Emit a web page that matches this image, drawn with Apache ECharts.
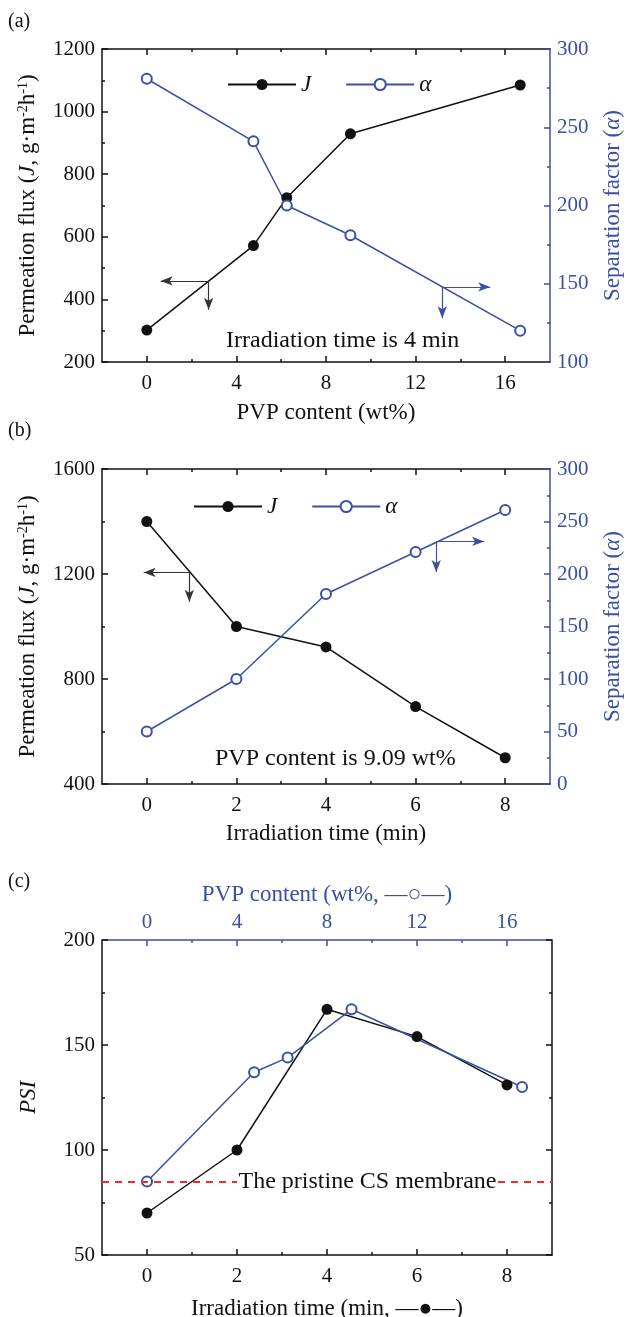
<!DOCTYPE html>
<html lang="en">
<head>
    <meta charset="UTF-8">
    <title>PVP membrane</title>
    <script src="https://cdn.jsdelivr.net/npm/echarts@6/dist/echarts.min.js"></script>
    <style>
        body { margin: 0; background: #fff; }
    </style>
</head>
<body>
    <div id="main" style="width: 630px; height: 1317px;"></div>
</body>
</html>

<script>
    var man = document.querySelector('#main')
    const myChart = echarts.init(man)

// (a) 照射时间 4 min
var pvpA = [0, 4.76, 6.25, 9.09, 16.67];
var fluxA = [302, 572, 725, 929, 1085];
var alphaA = [281, 241, 200, 181, 120];

// (b) PVP 9.09 wt%
var timeB = [0, 2, 4, 6, 8];
var fluxB = [1400, 1000, 922, 695, 500];
var alphaB = [50, 100, 181, 221, 261];

// (c) PSI
var timeC = [0, 2, 4, 6, 8];
var psiTime = [70, 100, 167, 154, 131];
var pvpC = [0, 4.76, 6.25, 9.09, 16.67];
var psiPvp = [85, 137, 144, 167, 130];
var psiPristine = 85;

var pvpTicks = [0, 4, 8, 12, 16];
var pvpMinor = [2, 6, 10, 14];
var timeTicks = [0, 2, 4, 6, 8];
var timeMinor = [1, 3, 5, 7];

// 箭头 (数据坐标)
var arrowsA = {
    left: [[2.76, 459], [0.62, 459], [2.76, 367]],
    right: [[13.19, 148], [15.33, 148], [13.19, 128]]
};
var arrowsB = {
    left: [[0.95, 1206], [-0.07, 1206], [0.95, 1094]],
    right: [[6.46, 231], [7.53, 231], [6.46, 202]]
};

var BLUE = '#3c4fa5';
var BLACK = '#111';
var FONT = '"Liberation Serif", "Times New Roman", serif';

function zip(xs, ys) {
    return xs.map(function (x, i) { return [x, ys[i]]; });
}

function arrowLines(a) {
    return [
        [{ coord: a[0] }, { coord: a[1] }],
        [{ coord: a[0] }, { coord: a[2] }]
    ];
}

function plain(v) { return String(v); }

function xAxes(grid, min, max, ticks, minor, opt) {
    opt = opt || {};
    var base = {
        type: 'value', gridIndex: grid, min: min, max: max,
        splitLine: { show: false }
    };
    var bottom = Object.assign({}, base, {
        position: 'bottom',
        name: opt.bottomName, nameLocation: 'middle', nameGap: opt.bottomGap || 38,
        nameTextStyle: { fontFamily: FONT, fontSize: 23, color: BLACK },
        axisLine: { onZero: false, lineStyle: { color: BLACK, width: 1.5 } },
        axisTick: { inside: true, length: 6, customValues: ticks, lineStyle: { color: BLACK, width: 1.5 } },
        axisLabel: { customValues: ticks, formatter: plain, fontFamily: FONT, fontSize: 21, color: BLACK, margin: 11 }
    });
    var bottomMinor = Object.assign({}, base, {
        position: 'bottom',
        axisLine: { show: false, onZero: false },
        axisTick: { inside: true, length: 3, customValues: minor, lineStyle: { color: BLACK, width: 1.5 } },
        axisLabel: { show: false }
    });
    var topColor = opt.topColor || BLACK;
    var tMin = opt.topMin != null ? opt.topMin : min;
    var tMax = opt.topMax != null ? opt.topMax : max;
    var tTicks = opt.topTicks || ticks;
    var tMinor = opt.topMinor || minor;
    var top = Object.assign({}, base, {
        position: 'top', min: tMin, max: tMax,
        name: opt.topName, nameLocation: 'middle', nameGap: 34,
        nameTextStyle: { fontFamily: FONT, fontSize: 23, color: topColor },
        axisLine: { onZero: false, lineStyle: { color: topColor, width: 1.5 } },
        axisTick: { inside: true, length: 6, customValues: tTicks, lineStyle: { color: topColor, width: 1.5 } },
        axisLabel: opt.topLabels
            ? { customValues: tTicks, formatter: plain, fontFamily: FONT, fontSize: 21, color: topColor, margin: 7 }
            : { show: false }
    });
    var topMinor = Object.assign({}, base, {
        position: 'top', min: tMin, max: tMax,
        axisLine: { show: false, onZero: false },
        axisTick: { inside: true, length: 3, customValues: tMinor, lineStyle: { color: topColor, width: 1.5 } },
        axisLabel: { show: false }
    });
    return [bottom, bottomMinor, top, topMinor];
}

function yAxis(grid, pos, min, max, interval, color, name, showLabel) {
    return {
        type: 'value', gridIndex: grid, position: pos,
        min: min, max: max, interval: interval,
        name: name, nameLocation: 'middle', nameRotate: 90,
        nameGap: pos === 'left' ? 62 : 51,
        nameTextStyle: {
            fontFamily: FONT, fontSize: 23, color: color,
            rich: {
                i: { fontFamily: FONT, fontSize: 23, fontStyle: 'italic', color: color },
                sup: { fontFamily: FONT, fontSize: 14, color: color, verticalAlign: 'top', lineHeight: 24 }
            }
        },
        splitLine: { show: false },
        axisLine: { show: true, onZero: false, lineStyle: { color: color, width: 1.5 } },
        axisTick: { inside: true, length: 6, lineStyle: { color: color, width: 1.5 } },
        minorTick: { show: true, splitNumber: 2, length: 3, lineStyle: { color: color, width: 1.5 } },
        axisLabel: { show: showLabel !== false, formatter: plain, fontFamily: FONT, fontSize: 21, color: color, margin: 7 }
    };
}

var fluxName = 'Permeation flux ({i|J}, g·m{sup|-2}h{sup|-1})';
var alphaName = 'Separation factor ({i|α})';

var xs = []
    .concat(xAxes(0, -2, 18, pvpTicks, pvpMinor, { bottomName: 'PVP content (wt%)', bottomGap: 39 }))
    .concat(xAxes(1, -1, 9, timeTicks, timeMinor, { bottomName: 'Irradiation time (min)', bottomGap: 38 }))
    .concat(xAxes(2, -1, 9, timeTicks, timeMinor, {
        bottomName: 'Irradiation time (min, —●—)', bottomGap: 42,
        topName: 'PVP content (wt%, —○—)', topColor: BLUE, topLabels: true,
        topMin: -2, topMax: 18, topTicks: pvpTicks, topMinor: pvpMinor
    }));

var ys = [
    yAxis(0, 'left', 200, 1200, 200, BLACK, fluxName),
    yAxis(0, 'right', 100, 300, 50, BLUE, alphaName),
    yAxis(1, 'left', 400, 1600, 400, BLACK, fluxName),
    yAxis(1, 'right', 0, 300, 50, BLUE, alphaName),
    yAxis(2, 'left', 50, 200, 50, BLACK, '{i|PSI}'),
    yAxis(2, 'right', 50, 200, 50, BLACK, '', false)
];

function jSeries(name, xi, yi, data, arrows) {
    var s = {
        name: name, type: 'line', xAxisIndex: xi, yAxisIndex: yi,
        data: data, symbol: 'circle', symbolSize: 11,
        itemStyle: { color: BLACK },
        lineStyle: { color: BLACK, width: 1.5 },
        z: 3
    };
    if (arrows) {
        s.markLine = {
            silent: true, symbol: ['none', 'arrow'], symbolSize: [7, 12],
            label: { show: false },
            lineStyle: { color: '#333', width: 1.2, type: 'solid' },
            data: arrowLines(arrows)
        };
    }
    return s;
}

function aSeries(name, xi, yi, data, arrows) {
    var s = {
        name: name, type: 'line', xAxisIndex: xi, yAxisIndex: yi,
        data: data, symbol: 'emptyCircle', symbolSize: 10,
        itemStyle: { color: BLUE, borderColor: BLUE, borderWidth: 1.3 },
        lineStyle: { color: BLUE, width: 1.5 },
        z: 3
    };
    if (arrows) {
        s.markLine = {
            silent: true, symbol: ['none', 'arrow'], symbolSize: [7, 12],
            label: { show: false },
            lineStyle: { color: BLUE, width: 1.2, type: 'solid' },
            data: arrowLines(arrows)
        };
    }
    return s;
}

var pristineSeries = jSeries('PSI-J', 8, 4, zip(timeC, psiTime));
pristineSeries.markLine = {
    silent: true, symbol: 'none',
    lineStyle: { color: '#e8312f', width: 1.8, type: [7, 6] },
    label: { show: false },
    data: [
        [{ coord: [-1, psiPristine] }, { coord: [2.0, psiPristine] }],
        [{ coord: [7.8, psiPristine] }, { coord: [9, psiPristine] }]
    ]
};
pristineSeries.markPoint = {
    silent: true,
    symbol: 'rect', symbolSize: 1,
    itemStyle: { color: 'rgba(0,0,0,0)' },
    label: {
        show: true, position: 'inside', formatter: 'The pristine CS membrane',
        fontFamily: FONT, fontSize: 24, color: BLACK
    },
    data: [{ coord: [4.9, psiPristine] }]
};

var legendText = { fontFamily: FONT, fontSize: 23, fontStyle: 'italic', color: BLACK };

var option = {
    backgroundColor: '#fff',
    animation: false,
    textStyle: { fontFamily: FONT },
    grid: [
        { left: 102, top: 49, width: 448, height: 313, outerBoundsMode: 'none' },
        { left: 102, top: 469, width: 448, height: 315, outerBoundsMode: 'none' },
        { left: 102, top: 940, width: 450, height: 315, outerBoundsMode: 'none' }
    ],
    legend: [
        {
            data: ['J', 'α'], left: 222, top: 68, itemWidth: 68, itemHeight: 14, itemGap: 34,
            textStyle: legendText
        },
        {
            data: ['J', 'α'], left: 188, top: 490, itemWidth: 68, itemHeight: 14, itemGap: 34,
            textStyle: legendText
        }
    ],
    xAxis: xs,
    yAxis: ys,
    graphic: [
        { type: 'text', left: 8, top: 12, style: { text: '(a)', font: '20px ' + FONT, fill: BLACK } },
        { type: 'text', left: 8, top: 421, style: { text: '(b)', font: '20px ' + FONT, fill: BLACK } },
        { type: 'text', left: 8, top: 872, style: { text: '(c)', font: '20px ' + FONT, fill: BLACK } },
        { type: 'text', left: 226, top: 329, style: { text: 'Irradiation time is 4 min', font: '24px ' + FONT, fill: BLACK } },
        { type: 'text', left: 215, top: 747, style: { text: 'PVP content is 9.09 wt%', font: '24px ' + FONT, fill: BLACK } }
    ],
    series: [
        jSeries('J', 0, 0, zip(pvpA, fluxA), arrowsA.left),
        aSeries('α', 0, 1, zip(pvpA, alphaA), arrowsA.right),
        jSeries('J', 4, 2, zip(timeB, fluxB), arrowsB.left),
        aSeries('α', 4, 3, zip(timeB, alphaB), arrowsB.right),
        pristineSeries,
        aSeries('PSI-PVP', 10, 4, zip(pvpC, psiPvp))
    ]
};
myChart.setOption(option);
</script>
